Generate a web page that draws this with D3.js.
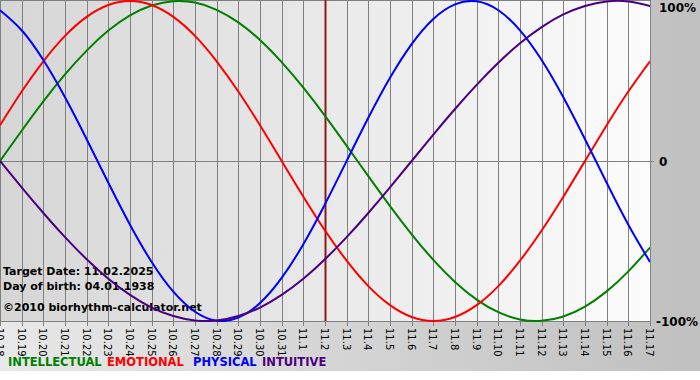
<!DOCTYPE html>
<html><head><meta charset="utf-8">
<script src="https://cdn.jsdelivr.net/npm/d3@7"></script>
<style>html,body{margin:0;padding:0;background:#fff;}svg{display:block;}</style>
</head><body>
<svg id="chart" width="700" height="380"></svg>
<script>
const dates = ["10.18","10.19","10.20","10.21","10.22","10.23","10.24","10.25","10.26","10.27","10.28","10.29","10.30","10.31","11.1","11.2","11.3","11.4","11.5","11.6","11.7","11.8","11.9","11.10","11.11","11.12","11.13","11.14","11.15","11.16","11.17"];
const intellectual = [0,18.9,37.2,54.1,69.0,81.5,91.0,97.2,99.9,99.0,94.5,86.6,75.6,61.8,45.8,28.2,9.5,-9.5,-28.2,-45.8,-61.8,-75.6,-86.6,-94.5,-99.0,-99.9,-97.2,-91.0,-81.5,-69.0,-54.1];
const emotional = [22.3,43.4,62.3,78.2,90.1,97.5,100,97.5,90.1,78.2,62.3,43.4,22.3,0,-22.3,-43.4,-62.3,-78.2,-90.1,-97.5,-100,-97.5,-90.1,-78.2,-62.3,-43.4,-22.3,0,22.3,43.4,62.3];
const physical = [94.2,81.7,63.1,39.8,13.6,-13.6,-39.8,-63.1,-81.7,-94.2,-99.8,-97.9,-88.8,-73.1,-52.0,-27.0,0,27.0,52.0,73.1,88.8,97.9,99.8,94.2,81.7,63.1,39.8,13.6,-13.6,-39.8,-63.1];
const intuitive = [0,-16.5,-32.5,-47.6,-61.4,-73.6,-83.7,-91.6,-96.9,-99.7,-99.7,-96.9,-91.6,-83.7,-73.6,-61.4,-47.6,-32.5,-16.5,0,16.5,32.5,47.6,61.4,73.6,83.7,91.6,96.9,99.7,99.7,96.9];
const yTickLabels = [{v:100,t:"100%"},{v:0,t:"0"},{v:-100,t:"-100%"}];
const targetDate = "11.2";
const infoLines = ["Target Date: 11.02.2025","Day of birth: 04.01.1938","\u00a92010 biorhythm-calculator.net"];
const seriesNames = ["INTELLECTUAL","EMOTIONAL","PHYSICAL","INTUITIVE"];

const colors = {INTELLECTUAL:"#008000",EMOTIONAL:"#ff0000",PHYSICAL:"#0000ff",INTUITIVE:"#4b0082"};
const seriesData = {INTELLECTUAL:intellectual,EMOTIONAL:emotional,PHYSICAL:physical,INTUITIVE:intuitive};

const svg = d3.select("#chart");
const defs = svg.append("defs");
const g1 = defs.append("linearGradient").attr("id","outerG").attr("x1","0").attr("x2","1").attr("y1","0").attr("y2","0");
g1.append("stop").attr("offset","0").attr("stop-color","#e8e8e8");
g1.append("stop").attr("offset","1").attr("stop-color","#c0c0c0");
const g2 = defs.append("linearGradient").attr("id","plotG").attr("x1","0").attr("x2","1").attr("y1","0").attr("y2","0");
g2.append("stop").attr("offset","0").attr("stop-color","#d6d6d6");
g2.append("stop").attr("offset","1").attr("stop-color","#fcfcfc");

const W = 650, plotTop = 1, plotBottom = 321;
svg.append("rect").attr("x",0).attr("y",0).attr("width",700).attr("height",371).attr("fill","url(#outerG)");

const x = d3.scalePoint().domain(dates).range([0, W]);
const y = d3.scaleLinear().domain([-100,100]).range([plotBottom, plotTop]);

svg.append("rect").attr("x",0).attr("y",0).attr("width",W).attr("height",plotBottom).attr("fill","url(#plotG)");

// vertical grid lines
svg.append("g").selectAll("line").data(dates).join("line")
  .attr("x1",d=>Math.round(x(d))+0.5).attr("x2",d=>Math.round(x(d))+0.5)
  .attr("y1",0).attr("y2",plotBottom+5)
  .attr("stroke","#808080").attr("stroke-width",1);
svg.append("line").attr("x1",0).attr("x2",W).attr("y1",0.5).attr("y2",0.5).attr("stroke","#808080");
svg.append("line").attr("x1",0).attr("x2",W).attr("y1",plotBottom+0.5).attr("y2",plotBottom+0.5).attr("stroke","#808080");
svg.append("line").attr("x1",0).attr("x2",W+4).attr("y1",Math.round(y(0))+0.5).attr("y2",Math.round(y(0))+0.5).attr("stroke","#808080");

// x axis labels rotated
svg.append("g").selectAll("text").data(dates).join("text")
  .attr("transform",d=>`translate(${Math.round(x(d))-4},${plotBottom+7}) rotate(90)`)
  .attr("font-family","DejaVu Sans, Verdana, sans-serif").attr("font-size",10)
  .attr("fill","#000").text(d=>d);

// target line
svg.append("line").attr("x1",Math.round(x(targetDate))+0.5).attr("x2",Math.round(x(targetDate))+0.5)
  .attr("y1",0).attr("y2",plotBottom).attr("stroke","#8b1a1a").attr("stroke-width",2);

// info text
svg.append("g").selectAll("text").data(infoLines).join("text")
  .attr("x",3).attr("y",(d,i)=>[275,290,311][i])
  .attr("font-family","DejaVu Sans, Verdana, sans-serif").attr("font-weight","bold").attr("font-size",11)
  .attr("fill","#000").text(d=>d);

// curves
const line = d3.line().x((d,i)=>x(dates[i])).y(d=>y(d)).curve(d3.curveNatural);
defs.append("clipPath").attr("id","clipP").append("rect").attr("x",0).attr("y",0).attr("width",W).attr("height",plotBottom+1);
const cg = svg.append("g").attr("clip-path","url(#clipP)");
seriesNames.forEach(n=>{
  cg.append("path").datum(seriesData[n]).attr("d",line).attr("fill","none")
    .attr("stroke",colors[n]).attr("stroke-width",2);
});

// right labels
svg.append("g").selectAll("text").data(yTickLabels).join("text")
  .attr("x",d=>d.v>=0?659:656).attr("y",d=>Math.max(12, y(d.v)+5))
  .attr("font-family","DejaVu Sans, Verdana, sans-serif").attr("font-weight","bold").attr("font-size",12)
  .attr("fill","#000").text(d=>d.t);

// legend
const legX = [8,107,193,262];
svg.append("g").selectAll("text").data(seriesNames).join("text")
  .attr("x",(d,i)=>legX[i]).attr("y",366)
  .attr("font-family","DejaVu Sans, Verdana, sans-serif").attr("font-weight","bold").attr("font-size",11.5)
  .attr("fill",d=>colors[d]).text(d=>d);
</script>
</body></html>
